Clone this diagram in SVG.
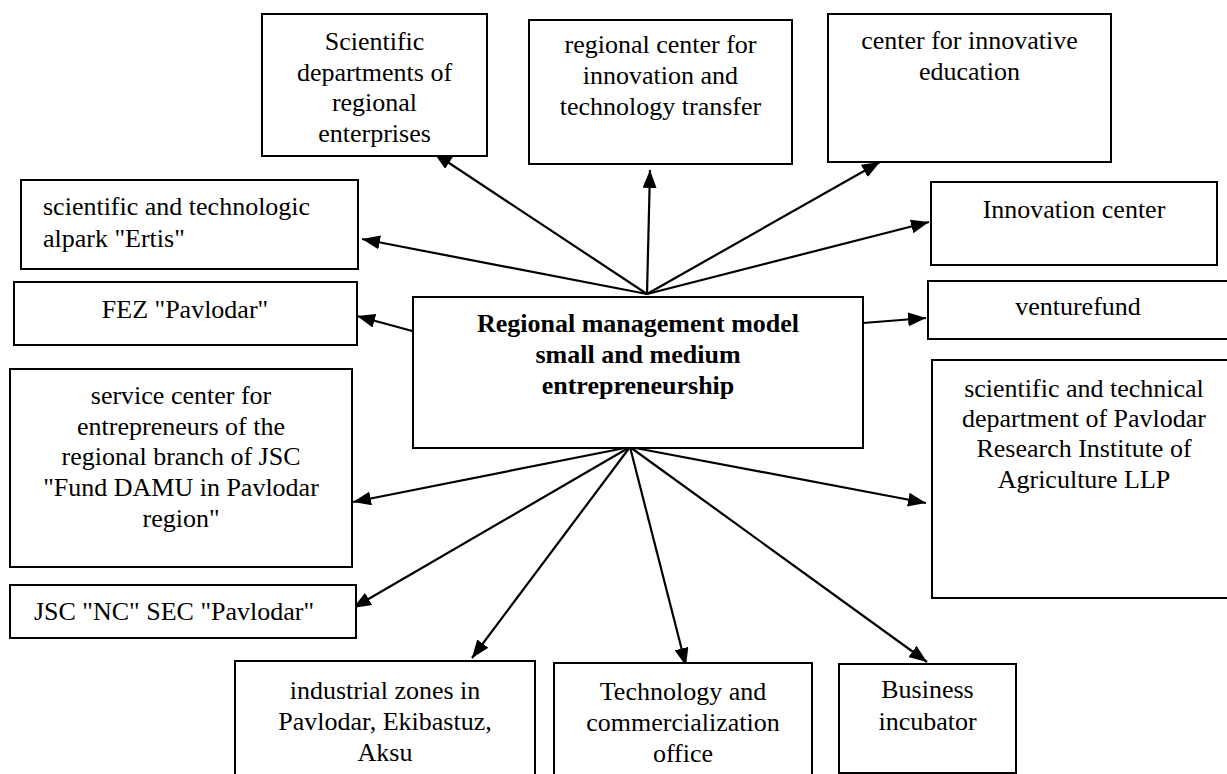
<svg xmlns="http://www.w3.org/2000/svg" width="1227" height="774" viewBox="0 0 1227 774">
<style>
.box{fill:#fff;stroke:#000;stroke-width:2}
.t{font-family:"Liberation Serif","Times New Roman",serif;font-size:26px;fill:#000;text-anchor:middle}
.l{text-anchor:start}
.b{font-weight:bold}
.c{stroke:#000;stroke-width:2.2;fill:none;marker-end:url(#ah)}
</style>
<defs>
<marker id="ah" markerUnits="userSpaceOnUse" markerWidth="18" markerHeight="14" refX="18" refY="7" orient="auto">
<path d="M0,0 L18,7 L0,14 z" fill="#000"/>
</marker>
</defs>
<rect width="1227" height="774" fill="#fff"/>
<g id="connectors">
<line class="c" x1="647" y1="294" x2="434" y2="153"/>
<line class="c" x1="647" y1="294" x2="362" y2="239"/>
<line class="c" x1="647" y1="294" x2="650" y2="170"/>
<line class="c" x1="647" y1="294" x2="880" y2="162"/>
<line class="c" x1="647" y1="294" x2="929" y2="222"/>
<line class="c" x1="416" y1="332" x2="357" y2="316"/>
<line class="c" x1="863" y1="323" x2="926" y2="318"/>
<line class="c" x1="630" y1="447" x2="926" y2="503"/>
<line class="c" x1="630" y1="447" x2="927" y2="662"/>
<line class="c" x1="630" y1="447" x2="686" y2="666"/>
<line class="c" x1="630" y1="447" x2="472" y2="658"/>
<line class="c" x1="630" y1="447" x2="353" y2="608"/>
<line class="c" x1="630" y1="447" x2="353" y2="502"/>
</g>
<g id="main">
<rect class="box" x="413" y="297" width="450" height="151"/>
<text class="t b" x="638" y="332">Regional management model</text>
<text class="t b" x="638" y="363">small and medium</text>
<text class="t b" x="638" y="394">entrepreneurship</text>
</g>
<g id="sci-depts">
<rect class="box" x="262" y="14" width="225" height="142"/>
<text class="t" x="374.5" y="50">Scientific</text>
<text class="t" x="374.5" y="81">departments of</text>
<text class="t" x="374.5" y="111">regional</text>
<text class="t" x="374.5" y="142">enterprises</text>
</g>
<g id="regional-center">
<rect class="box" x="529" y="20" width="263" height="144"/>
<text class="t" x="660.5" y="53">regional center for</text>
<text class="t" x="660.5" y="84">innovation and</text>
<text class="t" x="660.5" y="115">technology transfer</text>
</g>
<g id="innov-education">
<rect class="box" x="828" y="14" width="283" height="148"/>
<text class="t" x="969.5" y="49">center for innovative</text>
<text class="t" x="969.5" y="80">education</text>
</g>
<g id="innovation-center">
<rect class="box" x="931" y="182" width="286" height="83"/>
<text class="t" x="1074" y="218">Innovation center</text>
</g>
<g id="alpark">
<rect class="box" x="21" y="180" width="337" height="89"/>
<text class="t l" x="43" y="215">scientific and technologic</text>
<text class="t l" x="43" y="247">alpark "Ertis"</text>
</g>
<g id="fez">
<rect class="box" x="14" y="282" width="343" height="63"/>
<text class="t" x="185" y="318">FEZ "Pavlodar"</text>
</g>
<g id="venturefund">
<rect class="box" x="928" y="281" width="302" height="58"/>
<text class="t" x="1078" y="315">venturefund</text>
</g>
<g id="service-center">
<rect class="box" x="10" y="369" width="342" height="198"/>
<text class="t" x="181" y="404">service center for</text>
<text class="t" x="181" y="435">entrepreneurs of the</text>
<text class="t" x="181" y="465">regional branch of JSC</text>
<text class="t" x="181" y="496">"Fund DAMU in Pavlodar</text>
<text class="t" x="181" y="527">region"</text>
</g>
<g id="sci-tech">
<rect class="box" x="932" y="360" width="302" height="238"/>
<text class="t" x="1084" y="397">scientific and technical</text>
<text class="t" x="1084" y="427">department of Pavlodar</text>
<text class="t" x="1084" y="457">Research Institute of</text>
<text class="t" x="1084" y="488">Agriculture LLP</text>
</g>
<g id="jsc-nc">
<rect class="box" x="10" y="585" width="346" height="53"/>
<text class="t" x="174" y="620">JSC "NC" SEC "Pavlodar"</text>
</g>
<g id="industrial">
<rect class="box" x="235" y="661" width="300" height="120"/>
<text class="t" x="385" y="699">industrial zones in</text>
<text class="t" x="385" y="730">Pavlodar, Ekibastuz,</text>
<text class="t" x="385" y="761">Aksu</text>
</g>
<g id="tech-office">
<rect class="box" x="554" y="663" width="258" height="120"/>
<text class="t" x="683" y="700">Technology and</text>
<text class="t" x="683" y="731">commercialization</text>
<text class="t" x="683" y="762">office</text>
</g>
<g id="incubator">
<rect class="box" x="839" y="664" width="177" height="109"/>
<text class="t" x="927.5" y="698">Business</text>
<text class="t" x="927.5" y="730">incubator</text>
</g>
</svg>
